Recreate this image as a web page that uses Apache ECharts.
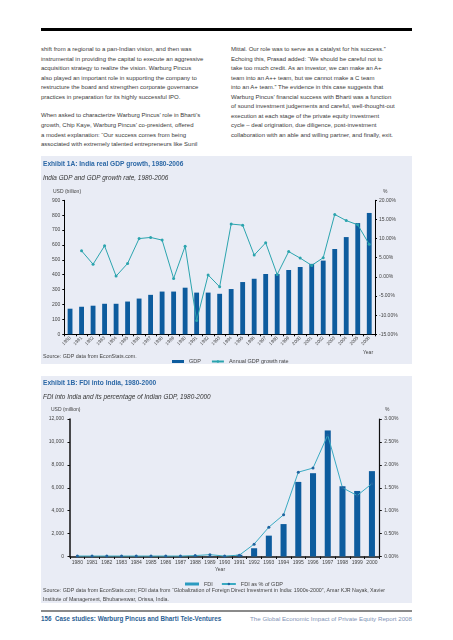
<!DOCTYPE html>
<html>
<head>
<meta charset="utf-8">
<script src="https://cdn.jsdelivr.net/npm/echarts@6/dist/echarts.min.js"></script>
<style>
html,body{margin:0;padding:0;background:#fff;}
#page{position:relative;width:453px;height:640px;overflow:hidden;font-family:"Liberation Sans",Arial,sans-serif;}
.bar{position:absolute;left:41px;top:28px;width:371px;height:3px;background:#000;}
.col{position:absolute;top:45px;font-size:6px;line-height:9.55px;color:#3a3a3a;white-space:nowrap;}
.panel{position:absolute;left:41px;width:371px;background:#e9ecf5;}
.foot{position:absolute;left:41px;top:610px;width:371px;height:2px;background:#8a8a8a;}
.ftl{position:absolute;left:41px;top:615px;font-size:6.3px;font-weight:bold;color:#2b5f95;white-space:nowrap;}
.ftr{position:absolute;right:41px;top:615px;font-size:6.2px;color:#7f93b5;white-space:nowrap;}
</style>
</head>
<body>
<div id="page">
<div class="bar"></div>
<div class="col" style="left:41px;">shift from a regional to a pan-Indian vision, and then was<br>instrumental in providing the capital to execute an aggressive<br>acquisition strategy to realize the vision. Warburg Pincus<br>also played an important role in supporting the company to<br>restructure the board and strengthen corporate governance<br>practices in preparation for its highly successful IPO.<br><span style="display:block;height:9.2px"></span>When asked to characterize Warburg Pincus’ role in Bharti’s<br>growth, Chip Kaye, Warburg Pincus’ co-president, offered<br>a modest explanation: “Our success comes from being<br>associated with extremely talented entrepreneurs like Sunil</div>
<div class="col" style="left:231px;">Mittal. Our role was to serve as a catalyst for his success.”<br>Echoing this, Prasad added: “We should be careful not to<br>take too much credit. As an investor, we can make an A+<br>team into an A++ team, but we cannot make a C team<br>into an A+ team.” The evidence in this case suggests that<br>Warburg Pincus’ financial success with Bharti was a function<br>of sound investment judgements and careful, well-thought-out<br>execution at each stage of the private equity investment<br>cycle – deal origination, due diligence, post-investment<br>collaboration with an able and willing partner, and finally, exit.</div>
<div id="c1" class="panel" style="top:156px;height:208px;"></div>
<div id="c2" class="panel" style="top:376px;height:227px;"></div>
<div class="foot"></div>
<div class="ftl">156&nbsp;&nbsp;Case studies: Warburg Pincus and Bharti Tele-Ventures</div>
<div class="ftr">The Global Economic Impact of Private Equity Report 2008</div>
</div>
<script>
// ---- Data: Exhibit 1A ----
const years1 = ['1980','1981','1982','1983','1984','1985','1986','1987','1988','1989','1990','1991','1992','1993','1994','1995','1996','1997','1998','1999','2000','2001','2002','2003','2004','2005','2006'];
const gdpBillion = [172,185,192,205,205,220,240,265,287,287,313,280,280,272,304,351,373,405,405,432,452,473,495,573,653,747,815];
const gdpGrowthPct = [null,6.8,3.3,8.1,0.2,3.5,10.0,10.3,9.6,-0.4,8.0,-11.4,0.5,-2.6,13.8,13.5,5.7,8.9,0.6,6.6,4.9,3.0,5.0,16.3,14.7,13.6,8.5];
const gdpTicks = [0,100,200,300,400,500,600,700,800,900];
const growthTicks = [-15,-10,-5,0,5,10,15,20];

// ---- Data: Exhibit 1B ----
const years2 = ['1980','1981','1982','1983','1984','1985','1986','1987','1988','1989','1990','1991','1992','1993','1994','1995','1996','1997','1998','1999','2000'];
const fdiMillion = [10,10,10,10,20,20,20,20,30,40,30,150,720,1820,2830,6510,7270,11000,6130,5720,7450];
const fdiPctGdp = [0.01,0.01,0.01,0.01,0.01,0.01,0.01,0.01,0.02,0.04,0.01,0.03,0.27,0.64,0.91,1.84,1.93,2.65,1.50,1.33,1.59];
const fdiTicks = [0,2000,4000,6000,8000,10000,12000];
const pctTicks = [0,0.5,1,1.5,2,2.5,3];

const FONT = '"Liberation Sans", Arial, sans-serif';
const BAR = '#0d5c9e';
const TEAL = '#2ba4ae';
const TITLE = '#2c68a6';
const TXT = '#444';

function txt(x, y, s, size, opt) {
  opt = opt || {};
  return {type:'text', x:x, y:y, silent:true, style:{text:s, fontSize:size, fontFamily:FONT, fill:opt.fill||TXT,
    fontWeight:opt.weight||'normal', fontStyle:opt.style||'normal', textAlign:opt.align||'left', textVerticalAlign:'middle'}};
}

// ---------- Chart 1 ----------
const c1 = echarts.init(document.getElementById('c1'), null, {renderer:'canvas'});
c1.setOption({
  animation:false,
  textStyle:{fontFamily:FONT},
  grid:{left:23.3, top:44.3, width:310.7, height:134},
  legend:{left:126, top:197.5, itemWidth:12, itemHeight:3, itemGap:10, textStyle:{fontSize:5.5, color:TXT, fontFamily:FONT},
    data:[{name:'GDP', icon:'rect'}, {name:'Annual GDP growth rate'}]},
  xAxis:{type:'category', data:years1, boundaryGap:true,
    axisLine:{lineStyle:{color:'#000', width:1}}, axisTick:{show:true, length:2, lineStyle:{color:'#000'}},
    axisLabel:{rotate:45, fontSize:4.6, color:TXT, margin:3, interval:0}},
  yAxis:[
    {type:'value', min:gdpTicks[0], max:gdpTicks[gdpTicks.length-1], interval:100, splitLine:{show:false},
      axisLine:{show:true, lineStyle:{color:'#000', width:1}}, axisTick:{show:true, length:2, lineStyle:{color:'#000'}},
      axisLabel:{fontSize:5, color:TXT, margin:4}},
    {type:'value', min:growthTicks[0], max:growthTicks[growthTicks.length-1], interval:5, splitLine:{show:false},
      axisLine:{show:true, lineStyle:{color:'#000', width:1}}, axisTick:{show:true, length:2, lineStyle:{color:'#000'}},
      axisLabel:{fontSize:5, color:TXT, margin:4, formatter:v=>v.toFixed(2)+'%'}}
  ],
  series:[
    {name:'GDP', type:'bar', data:gdpBillion, barWidth:'42%', itemStyle:{color:BAR}},
    {name:'Annual GDP growth rate', type:'line', yAxisIndex:1, data:gdpGrowthPct, symbol:'circle', symbolSize:3,
      showSymbol:true, lineStyle:{color:TEAL, width:1}, itemStyle:{color:TEAL}}
  ],
  graphic:[
    txt(2, 8.5, 'Exhibit 1A: India real GDP growth, 1980-2006', 6.6, {fill:TITLE, weight:'bold'}),
    txt(2, 22.3, 'India GDP and GDP growth rate, 1980-2006', 6.4, {fill:'#333', style:'italic'}),
    txt(12, 35.7, 'USD (billion)', 5, {}),
    txt(342, 35.7, '%', 5, {}),
    txt(327, 197, 'Year', 5, {align:'center'}),
    txt(2, 201, 'Source: GDP data from EconStats.com.', 5.3, {})
  ]
});

// ---------- Chart 2 ----------
const c2 = echarts.init(document.getElementById('c2'), null, {renderer:'canvas'});
c2.setOption({
  animation:false,
  textStyle:{fontFamily:FONT},
  grid:{left:29, top:43, width:309.3, height:137.5},
  legend:{left:139, top:200, itemWidth:14, itemHeight:3, itemGap:8, textStyle:{fontSize:5.5, color:TXT, fontFamily:FONT},
    data:[{name:'FDI', icon:'rect', itemStyle:{color:'#2a9bc0'}}, {name:'FDI as % of GDP'}]},
  xAxis:{type:'category', data:years2, boundaryGap:true,
    axisLine:{lineStyle:{color:'#111', width:1.5}}, axisTick:{show:true, length:2.5, lineStyle:{color:'#111', width:1}},
    axisLabel:{fontSize:5, color:TXT, margin:4, interval:0}},
  yAxis:[
    {type:'value', min:fdiTicks[0], max:fdiTicks[fdiTicks.length-1], interval:2000, splitLine:{show:false},
      axisLine:{show:true, lineStyle:{color:'#111', width:1.5}}, axisTick:{show:true, length:2.5, lineStyle:{color:'#111'}},
      axisLabel:{fontSize:5, color:TXT, margin:6, formatter:v=>v.toLocaleString('en-US')}},
    {type:'value', min:pctTicks[0], max:pctTicks[pctTicks.length-1], interval:0.5, splitLine:{show:false},
      axisLine:{show:true, lineStyle:{color:'#111', width:1.2}}, axisTick:{show:true, length:2.5, lineStyle:{color:'#111'}},
      axisLabel:{fontSize:5, color:TXT, margin:5, formatter:v=>v.toFixed(2)+'%'}}
  ],
  series:[
    {name:'FDI', type:'bar', data:fdiMillion, barWidth:'41%', itemStyle:{color:BAR}},
    {name:'FDI as % of GDP', type:'line', yAxisIndex:1, data:fdiPctGdp, symbol:'circle', symbolSize:3,
      lineStyle:{color:'#3aaac2', width:1}, itemStyle:{color:'#1f639f'}}
  ],
  graphic:[
    txt(2, 7, 'Exhibit 1B: FDI into India, 1980-2000', 6.6, {fill:TITLE, weight:'bold'}),
    txt(2, 21, 'FDI into India and its percentage of Indian GDP, 1980-2000', 6.4, {fill:'#333', style:'italic'}),
    txt(10, 34, 'USD (million)', 5, {}),
    txt(344, 34, '%', 5, {}),
    txt(179, 193.5, 'Year', 5, {align:'center'}),
    txt(2, 215, 'Source: GDP data from EconStats.com; FDI data from “Globalization of Foreign Direct Investment in India: 1900s-2000”, Amar KJR Nayak, Xavier', 5.3, {}),
    txt(2, 224, 'Institute of Management, Bhubaneswar, Orissa, India.', 5.3, {})
  ]
});
</script>
</body>
</html>
